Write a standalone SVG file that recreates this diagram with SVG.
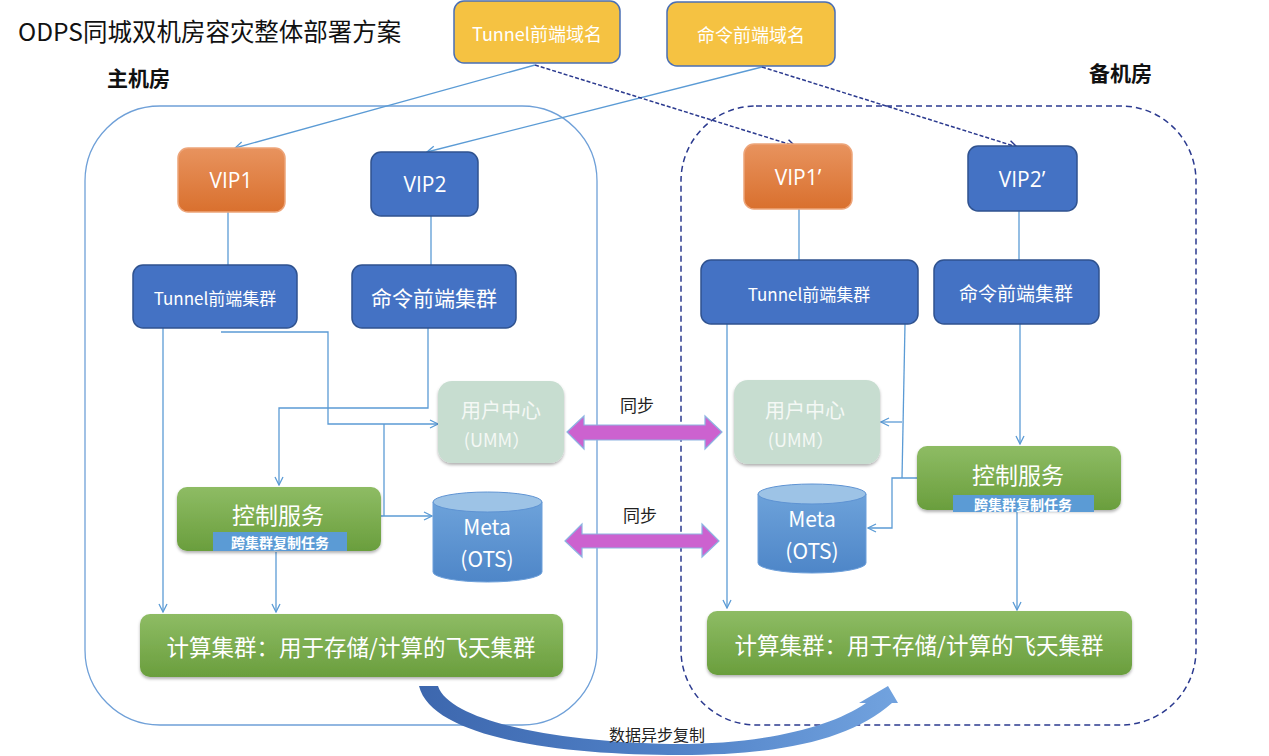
<svg xmlns="http://www.w3.org/2000/svg" width="1269" height="756" viewBox="0 0 1269 756">
<style>
text{font-family:"Noto Sans CJK SC","Open Sans",sans-serif;dominant-baseline:central;text-anchor:middle}
.w{fill:#fff}
.vip{font-family:"Open Sans","Noto Sans CJK SC",sans-serif;font-size:21px;fill:#fff}
.blue{fill:#4472C4;stroke:#2F528F;stroke-width:1.5}
.orange{fill:url(#gOr);stroke:#EDA57A;stroke-width:1.5}
.yellow{fill:#F5C242;stroke:#4A6FB5;stroke-width:1.5}
.green{fill:url(#gGr);filter:url(#sh)}
.umm{fill:#C7DDD0;filter:url(#sh)}
.sub{fill:#5B9BD5}
.ln{fill:none;stroke:#5B9BD5;stroke-width:1.3}
.arr{marker-end:url(#ah)}
.dl{fill:none;stroke:#2B3A8F;stroke-width:1.5;stroke-dasharray:4 2;marker-end:url(#ahd)}
.sync{fill:#CC62CF;stroke:#8DB4E2;stroke-width:1.2}
.cylb{fill:url(#gCy);stroke:#6C9FDA;stroke-width:1}
.cylt{fill:#9DC3E6;stroke:#5E93D3;stroke-width:1}
</style>
<defs>
<linearGradient id="gOr" x1="0" y1="0" x2="0" y2="1"><stop offset="0" stop-color="#E8935E"/><stop offset="1" stop-color="#D9702E"/></linearGradient>
<linearGradient id="gGr" x1="0" y1="0" x2="0" y2="1"><stop offset="0" stop-color="#8EBC64"/><stop offset="1" stop-color="#6A9E3D"/></linearGradient>
<linearGradient id="gCy" x1="0" y1="0" x2="0" y2="1"><stop offset="0" stop-color="#6DA2DA"/><stop offset="1" stop-color="#4E86C8"/></linearGradient>
<linearGradient id="gBig" gradientUnits="userSpaceOnUse" x1="420" y1="0" x2="900" y2="0"><stop offset="0" stop-color="#3D67AE"/><stop offset="0.5" stop-color="#4F80C6"/><stop offset="1" stop-color="#72A3DF"/></linearGradient>
<filter id="sh" x="-10%" y="-10%" width="120%" height="130%"><feDropShadow dx="0" dy="2" stdDeviation="1.5" flood-color="#000" flood-opacity="0.3"/></filter>
<marker id="ah" viewBox="0 0 10 10" refX="9" refY="5" markerWidth="10" markerHeight="10" markerUnits="userSpaceOnUse" orient="auto"><path d="M1,1 L9,5 L1,9" fill="none" stroke="#5B9BD5" stroke-width="1.3"/></marker>
<marker id="ahd" viewBox="0 0 10 10" refX="9" refY="5" markerWidth="10" markerHeight="10" markerUnits="userSpaceOnUse" orient="auto"><path d="M1,1 L9,5 L1,9" fill="none" stroke="#2B3A8F" stroke-width="1.5"/></marker>
</defs>
<rect width="1269" height="756" fill="#fff"/>

<text x="18" y="30" style="text-anchor:start;font-size:24.5px;fill:#111">ODPS同城双机房容灾整体部署方案</text>
<text x="107" y="77" style="text-anchor:start;font-size:21px;font-weight:bold;fill:#111">主机房</text>
<text x="1089" y="72" style="text-anchor:start;font-size:21px;font-weight:bold;fill:#111">备机房</text>

<g id="main-room"><rect x="85" y="106" width="512" height="619" rx="75" fill="none" stroke="#6FA0D8" stroke-width="1.3"/></g>
<g id="backup-room"><rect x="681" y="106" width="515" height="619" rx="75" fill="none" stroke="#2B3A8F" stroke-width="1.5" stroke-dasharray="6 4"/></g>

<g id="connectors">
<path class="ln arr" d="M535,65 L235,148"/>
<path class="ln arr" d="M762,67 L427,152"/>
<path class="dl" d="M535,65 L795,146"/>
<path class="dl" d="M762,67 L1017,147"/>
<path class="ln" d="M228,212 V265"/>
<path class="ln" d="M431,216 V265"/>
<path class="ln" d="M799,209 V260"/>
<path class="ln" d="M1019,211 V260"/>
<path class="ln arr" d="M163,328 V612"/>
<path class="ln arr" d="M221,332 H328 V424 H438"/>
<path class="ln arr" d="M428,328 V408 H279 V485"/>
<path class="ln" d="M384,516 V424"/>
<path class="ln arr" d="M378,516 H432"/>
<path class="ln arr" d="M276,552 V612"/>
<path class="ln arr" d="M727,324 V608"/>
<path class="ln" d="M905,324 L902,478"/>
<path class="ln arr" d="M902,422 H881"/>
<path class="ln arr" d="M917,478 H892 V528 H868"/>
<path class="ln arr" d="M1020,324 V444"/>
<path class="ln arr" d="M1017,512 V610"/>
</g>

<g id="tunnel-domain"><rect class="yellow" x="454" y="1" width="166" height="62" rx="10"/><text class="w" x="537" y="33" style="font-size:18px">Tunnel前端域名</text></g>
<g id="cmd-domain"><rect class="yellow" x="667" y="2" width="168" height="64" rx="10"/><text class="w" x="751" y="34" style="font-size:18px">命令前端域名</text></g>

<g id="vip1"><rect class="orange" x="178" y="148" width="107" height="64" rx="10"/><text class="vip" x="231" y="180">VIP1</text></g>
<g id="vip2"><rect class="blue" x="371" y="152" width="107" height="64" rx="10"/><text class="vip" x="425" y="184">VIP2</text></g>
<g id="vip1b"><rect class="orange" x="744" y="144" width="108" height="65" rx="10"/><text class="vip" x="798" y="177">VIP1’</text></g>
<g id="vip2b"><rect class="blue" x="968" y="146" width="109" height="65" rx="10"/><text class="vip" x="1022" y="179">VIP2’</text></g>

<g id="tunnel-cluster"><rect class="blue" x="133" y="265" width="164" height="63" rx="10"/><text class="w" x="215" y="297" style="font-size:17px">Tunnel前端集群</text></g>
<g id="cmd-cluster"><rect class="blue" x="352" y="265" width="164" height="63" rx="10"/><text class="w" x="434" y="297" style="font-size:21px">命令前端集群</text></g>
<g id="tunnel-cluster-b"><rect class="blue" x="701" y="260" width="217" height="64" rx="10"/><text class="w" x="809" y="293" style="font-size:17px">Tunnel前端集群</text></g>
<g id="cmd-cluster-b"><rect class="blue" x="934" y="260" width="165" height="64" rx="10"/><text class="w" x="1016" y="292" style="font-size:19px">命令前端集群</text></g>

<g id="umm"><rect class="umm" x="438" y="381" width="126" height="82" rx="14"/><text x="501" y="409" style="font-size:20px;fill:#F4F8F5">用户中心</text><text x="497" y="439" style="font-size:18px;fill:#F4F8F5">(UMM）</text></g>
<g id="umm-b"><rect class="umm" x="734" y="380" width="146" height="84" rx="14"/><text x="805" y="409" style="font-size:20px;fill:#F4F8F5">用户中心</text><text x="801" y="439" style="font-size:18px;fill:#F4F8F5">(UMM）</text></g>

<g id="ctrl"><rect class="green" x="177" y="487" width="204" height="64" rx="10"/><rect class="sub" x="213" y="532" width="134" height="19"/><text class="w" x="278" y="514" style="font-size:23px">控制服务</text><text class="w" x="280" y="542" style="font-size:14px;font-weight:bold">跨集群复制任务</text></g>
<g id="ctrl-b"><rect class="green" x="917" y="446" width="204" height="64" rx="10"/><rect class="sub" x="953" y="495" width="141" height="17"/><text class="w" x="1018" y="474" style="font-size:23px">控制服务</text><text class="w" x="1023" y="504" style="font-size:14px;font-weight:bold">跨集群复制任务</text></g>

<g id="meta"><path class="cylb" d="M433,502 V572 A54.5,10 0 0 0 542,572 V502 Z"/><ellipse class="cylt" cx="487.5" cy="502" rx="54.5" ry="10"/><text class="w" x="487" y="526" style="font-size:21px">Meta</text><text class="w" x="487" y="558" style="font-size:21px">(OTS)</text></g>
<g id="meta-b"><path class="cylb" d="M758,494 V563 A54,10 0 0 0 866,563 V494 Z"/><ellipse class="cylt" cx="812" cy="494" rx="54" ry="10"/><text class="w" x="812" y="518" style="font-size:21px">Meta</text><text class="w" x="812" y="550" style="font-size:21px">(OTS)</text></g>

<g id="compute"><rect class="green" x="140" y="614" width="423" height="63" rx="10"/><text class="w" x="351" y="646" style="font-size:22.5px">计算集群：用于存储/计算的飞天集群</text></g>
<g id="compute-b"><rect class="green" x="707" y="611" width="425" height="64" rx="10"/><text class="w" x="919" y="644" style="font-size:22.5px">计算集群：用于存储/计算的飞天集群</text></g>

<g id="sync1"><path class="sync" d="M567,432 L584,416 V425 H705 V416 L722,432 L705,449 V440 H584 V449 Z"/><text x="637" y="404" style="font-size:17px;fill:#222">同步</text></g>
<g id="sync2"><path class="sync" d="M565,541 L582,524 V534 H702 V524 L719,541 L702,557 V548 H582 V557 Z"/><text x="640" y="514" style="font-size:17px;fill:#222">同步</text></g>

<g id="async-copy"><path d="M419,686 L438,686 C450,722 560,742 670,744 C760,745 830,728 866,703 L859,703 L888,686 L898,703 L892,703 C850,740 780,755 680,755 C560,755 432,738 419,686 Z" fill="url(#gBig)"/><text x="657" y="734" style="font-size:16px;fill:#222">数据异步复制</text></g>
</svg>
